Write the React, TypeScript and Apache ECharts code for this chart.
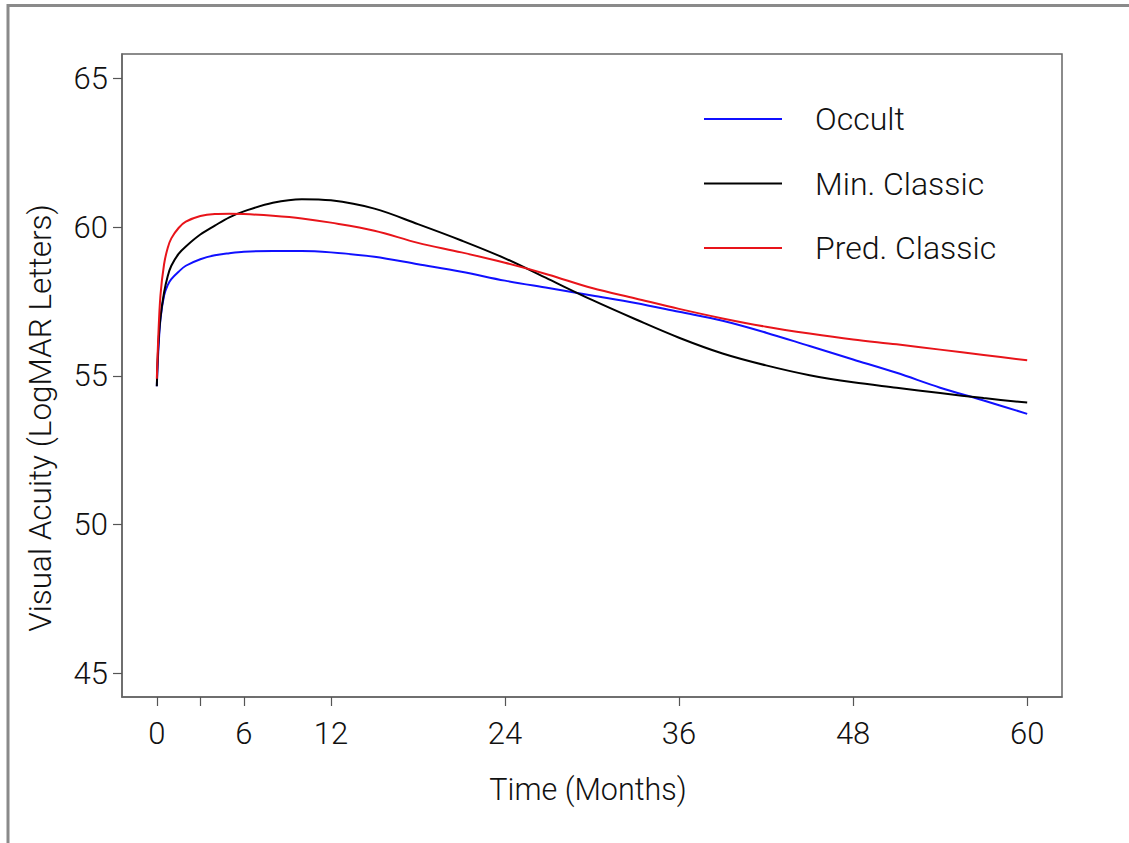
import React, { useEffect, useRef } from "react";
import * as echarts from "echarts";

const months = [0, 0.1, 0.25, 0.5, 0.75, 1, 1.5, 2, 3, 4, 5, 6, 8, 10, 12, 15, 18, 21, 24, 27, 30, 33, 36, 39, 42, 45, 48, 51, 54, 57, 60];

const occult = [54.65, 55.8, 56.9, 57.7, 58.05, 58.25, 58.5, 58.7, 58.92, 59.05, 59.12, 59.17, 59.2, 59.2, 59.15, 59.0, 58.75, 58.5, 58.2, 57.95, 57.7, 57.45, 57.15, 56.85, 56.45, 56.0, 55.55, 55.1, 54.6, 54.17, 53.72];
const minClassic = [54.65, 56.0, 56.95, 57.8, 58.35, 58.7, 59.1, 59.35, 59.75, 60.05, 60.33, 60.53, 60.82, 60.94, 60.9, 60.62, 60.1, 59.55, 58.95, 58.25, 57.55, 56.9, 56.28, 55.75, 55.35, 55.02, 54.78, 54.6, 54.42, 54.25, 54.1];
const predClassic = [54.9, 56.3, 57.7, 58.75, 59.3, 59.62, 59.97, 60.18, 60.37, 60.44, 60.45, 60.44, 60.38, 60.29, 60.15, 59.88, 59.47, 59.15, 58.8, 58.4, 57.95, 57.6, 57.25, 56.93, 56.65, 56.42, 56.22, 56.06, 55.88, 55.7, 55.52];

const xTicks = [0, 3, 6, 12, 24, 36, 48, 60];
const xLabels = [0, 6, 12, 24, 36, 48, 60];
const yTicks = [45, 50, 55, 60, 65];

const seriesNames = ["Occult", "Min. Classic", "Pred. Classic"];
const seriesColors = ["#1010ff", "#000000", "#e8141a"];

const FONT = "Roboto, 'Liberation Sans', sans-serif";

export default function App() {
  const ref = useRef<HTMLDivElement>(null);
  useEffect(() => {
    if (!ref.current) return;
    const chart = echarts.init(ref.current, null, { renderer: "svg" });
    const allValues = [occult, minClassic, predClassic];
    chart.setOption({
      animation: false,
      backgroundColor: "#ffffff",
      grid: {
        left: 122,
        top: 54,
        right: 67,
        bottom: 146,
        show: true,
        borderColor: "#666",
        borderWidth: 1.5,
        backgroundColor: "transparent",
      },
      legend: {
        orient: "vertical",
        left: 704,
        top: 103,
        padding: 0,
        icon: "rect",
        itemWidth: 78,
        itemHeight: 2,
        itemGap: 32.5,
        data: seriesNames,
        textStyle: {
          fontFamily: FONT,
          fontWeight: 300,
          fontSize: 32,
          color: "#111",
          lineHeight: 30,
          padding: [0, 0, 0, 28],
        },
      },
      xAxis: {
        type: "value",
        min: -2.4,
        max: 62.4,
        splitLine: { show: false },
        axisLine: { show: true, onZero: false, lineStyle: { color: "#666", width: 1.5 } },
        axisTick: {
          show: true,
          length: 9,
          customValues: xTicks,
          lineStyle: { color: "#555", width: 1.2 },
        },
        axisLabel: {
          customValues: xLabels,
          margin: 21,
          fontFamily: FONT,
          fontWeight: 300,
          fontSize: 31,
          color: "#111",
        },
      },
      yAxis: {
        type: "value",
        min: 44.2,
        max: 65.82,
        splitLine: { show: false },
        axisLine: { show: true, onZero: false, lineStyle: { color: "#666", width: 1.5 } },
        axisTick: {
          show: true,
          length: 9,
          customValues: yTicks,
          lineStyle: { color: "#555", width: 1.2 },
        },
        axisLabel: {
          customValues: yTicks,
          margin: 14,
          fontFamily: FONT,
          fontWeight: 300,
          fontSize: 31,
          color: "#111",
        },
      },
      graphic: [
        {
          type: "polyline",
          shape: { points: [[8, 843], [8, 5.5], [1129, 5.5]] },
          style: { stroke: "#8a8a8a", lineWidth: 3, fill: "none" },
        },
        {
          type: "text",
          x: 588,
          y: 789,
          style: {
            text: "Time (Months)",
            fontFamily: FONT,
            fontWeight: 300,
            fontSize: 30.5,
            fill: "#111",
            align: "center",
            verticalAlign: "middle",
          },
        },
        {
          type: "text",
          x: 40,
          y: 418,
          rotation: Math.PI / 2,
          style: {
            text: "Visual Acuity (LogMAR Letters)",
            fontFamily: FONT,
            fontWeight: 300,
            fontSize: 31.5,
            fill: "#111",
            align: "center",
            verticalAlign: "middle",
          },
        },
      ],
      series: seriesNames.map((name, i) => ({
        name,
        type: "line",
        data: months.map((m, j) => [m, allValues[i][j]]),
        smooth: 0.35,
        showSymbol: false,
        symbol: "none",
        lineStyle: { color: seriesColors[i], width: 2 },
        itemStyle: { color: seriesColors[i] },
      })),
    });
    return () => chart.dispose();
  }, []);
  return (
    <div
      ref={ref}
      style={{ position: "fixed", left: 0, top: 0, width: 1129, height: 843 }}
    />
  );
}
